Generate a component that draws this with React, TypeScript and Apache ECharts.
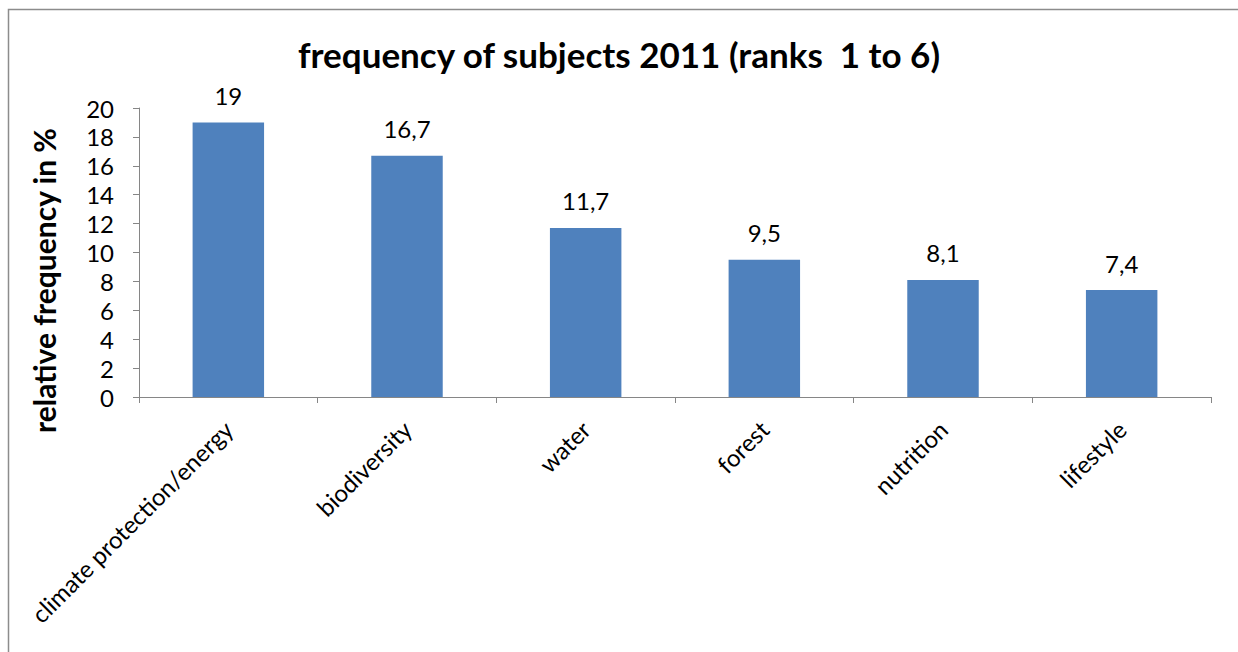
import React, { useEffect, useRef } from "react";
import * as echarts from "echarts";

const categories = [
  "climate protection/energy",
  "biodiversity",
  "water",
  "forest",
  "nutrition",
  "lifestyle",
];
const values = [19, 16.7, 11.7, 9.5, 8.1, 7.4];
const yTicks = { min: 0, max: 20, interval: 2 };

const FONT = "Lato";

export default function App() {
  const ref = useRef<HTMLDivElement>(null);
  useEffect(() => {
    document.body.style.margin = "0";
    const chart = echarts.init(ref.current!, null, { renderer: "svg" });
    chart.setOption({
      animation: false,
      backgroundColor: "#ffffff",
      textStyle: { fontFamily: FONT },
      title: {
        text: "frequency of subjects 2011 (ranks  1 to 6)",
        left: "center",
        top: 31,
        textStyle: { fontFamily: FONT, fontSize: 35, fontWeight: "bold", color: "#000" },
      },
      graphic: [
        {
          type: "rect",
          shape: { x: 8.5, y: 9.5, width: 1300, height: 800 },
          style: { fill: "none", stroke: "#8c8c8c", lineWidth: 1.5 },
          silent: true,
        },
      ],
      grid: { left: 139, right: 27, top: 108, bottom: 255 },
      xAxis: {
        type: "category",
        data: categories,
        axisLine: { lineStyle: { color: "#868686", width: 1 } },
        axisTick: { show: true, length: 6, lineStyle: { color: "#868686" } },
        axisLabel: {
          rotate: 45,
          fontFamily: FONT,
          fontSize: 24,
          color: "#000",
          margin: 28,
          interval: 0,
        },
      },
      yAxis: {
        type: "value",
        min: yTicks.min,
        max: yTicks.max,
        interval: yTicks.interval,
        name: "relative frequency in %",
        nameLocation: "middle",
        nameGap: 80,
        nameTextStyle: {
          fontFamily: FONT,
          fontSize: 30,
          fontWeight: "bold",
          color: "#000",
          padding: [0, 56, 0, 0],
        },
        axisLine: { show: true, lineStyle: { color: "#868686", width: 1 } },
        axisTick: { show: true, length: 6, lineStyle: { color: "#868686" } },
        splitLine: { show: false },
        axisLabel: { fontFamily: FONT, fontSize: 24, color: "#000", margin: 25 },
      },
      series: [
        {
          type: "bar",
          data: values,
          barCategoryGap: "60%",
          itemStyle: { color: "#4F81BD" },
          label: {
            show: true,
            position: "top",
            distance: 15,
            fontFamily: FONT,
            fontSize: 24,
            color: "#000",
            formatter: (p: any) => String(p.value).replace(".", ","),
          },
        },
      ],
    });
    return () => chart.dispose();
  }, []);
  return <div ref={ref} style={{ width: 1238, height: 652 }} />;
}
